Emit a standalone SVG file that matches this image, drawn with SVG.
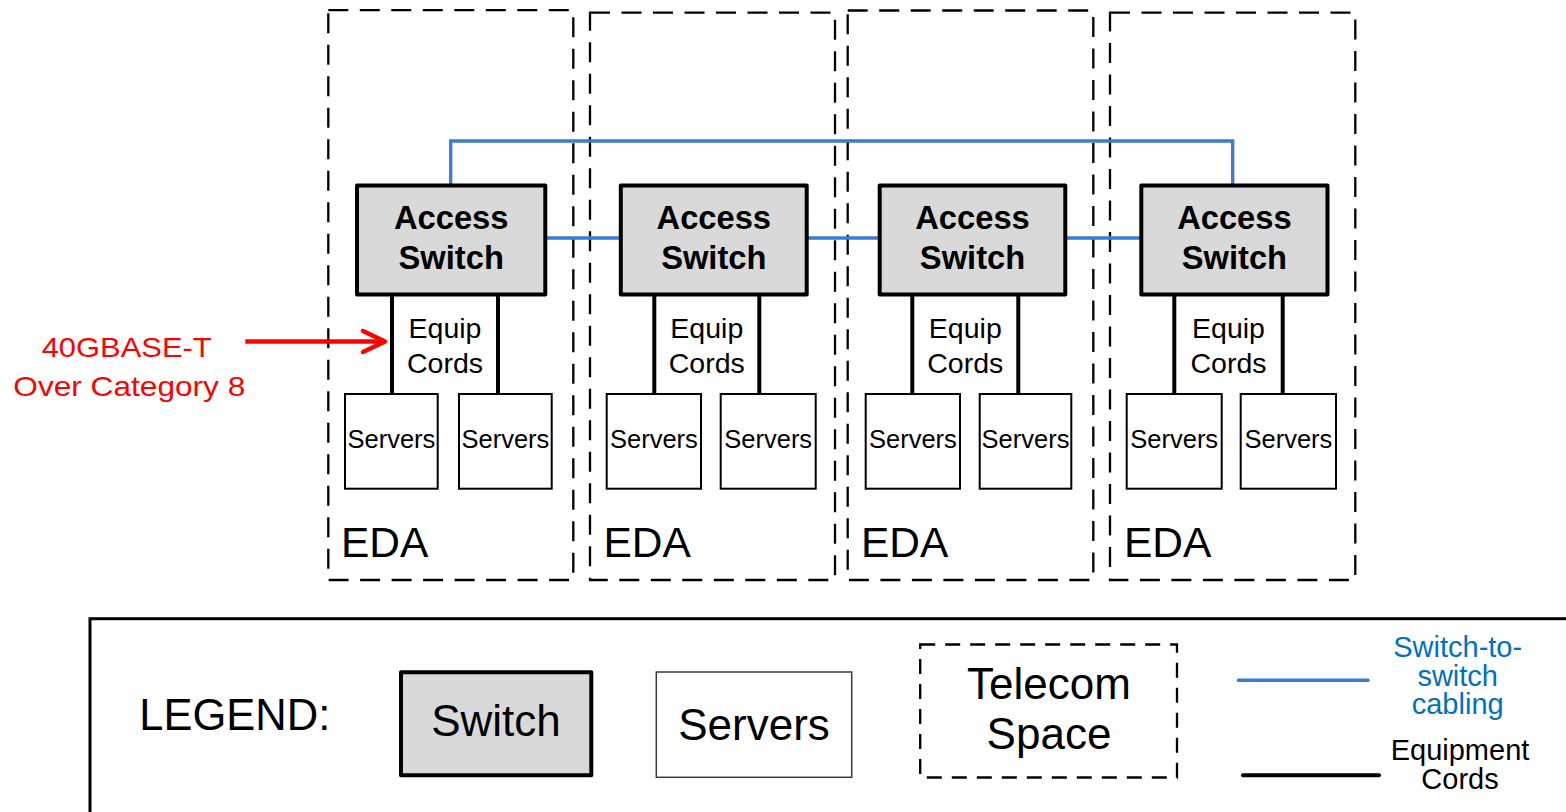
<svg xmlns="http://www.w3.org/2000/svg" width="1566" height="812" viewBox="0 0 1566 812">
  <style>
    text { font-family: "Liberation Sans", Arial, sans-serif; fill: #000; }
    .eda { fill: none; stroke: #000; stroke-width: 2.3; stroke-dasharray: 20 11.5; }
    .eda-label { font-size: 42.5px; }
    .switch { fill: #d9d9d9; stroke: #000; stroke-width: 4; stroke-linejoin: round; }
    .switch-label { font-size: 32.7px; font-weight: bold; text-anchor: middle; }
    .server { fill: #fff; stroke: #000; stroke-width: 2; }
    .server-label { font-size: 25.5px; text-anchor: middle; }
    .link { fill: none; stroke: #3a7bd5; stroke-width: 3.3; }
    .cord { fill: none; stroke: #000; stroke-width: 4; }
    .cord-label { font-size: 28.5px; text-anchor: middle; }
    .note { fill: #ff0000; font-size: 28px; }
    .legend-text { font-size: 44px; }
    .legend-small { font-size: 29px; text-anchor: middle; }
  </style>
  <defs>
    <marker id="chevron" markerUnits="userSpaceOnUse" markerWidth="40" markerHeight="40" viewBox="-30 -15 40 30" refX="0" refY="0" orient="auto" overflow="visible">
      <path d="M -22 -10.5 L 0 0 L -22 10.5" fill="none" stroke="#ff0000" stroke-width="4.5" stroke-linecap="round" stroke-linejoin="round"/>
    </marker>
  </defs>

  <rect width="1566" height="812" fill="#fff"/>

  <!-- equipment distribution areas -->
  <g id="eda-1">
    <rect class="eda" x="328.3" y="10.2" width="245" height="569.8"/>
    <text class="eda-label" x="341" y="556.5">EDA</text>
  </g>
  <g id="eda-2">
    <rect class="eda" x="590" y="12.7" width="245" height="567.3"/>
    <text class="eda-label" x="603.5" y="556.5">EDA</text>
  </g>
  <g id="eda-3">
    <rect class="eda" x="847.7" y="10.5" width="245.6" height="569.5"/>
    <text class="eda-label" x="861" y="556.5">EDA</text>
  </g>
  <g id="eda-4">
    <rect class="eda" x="1110" y="12.7" width="245.3" height="567.3"/>
    <text class="eda-label" x="1124" y="556.5">EDA</text>
  </g>

  <!-- cabling between switches and down to the servers -->
  <g id="connectors">
    <path class="link" d="M450.7 185.3 V141 H1232.7 V185.3"/>
    <line class="link" x1="545" y1="238" x2="621" y2="238"/>
    <line class="link" x1="806" y1="238" x2="880" y2="238"/>
    <line class="link" x1="1065" y1="238" x2="1142" y2="238"/>

    <line class="cord" x1="392" y1="294" x2="392" y2="394"/>
    <line class="cord" x1="498" y1="294" x2="498" y2="394"/>
    <line class="cord" x1="654.3" y1="294" x2="654.3" y2="394"/>
    <line class="cord" x1="759.3" y1="294" x2="759.3" y2="394"/>
    <line class="cord" x1="912.3" y1="294" x2="912.3" y2="394"/>
    <line class="cord" x1="1018.3" y1="294" x2="1018.3" y2="394"/>
    <line class="cord" x1="1174.3" y1="294" x2="1174.3" y2="394"/>
    <line class="cord" x1="1282.7" y1="294" x2="1282.7" y2="394"/>

    <text class="cord-label" x="445" y="337.5">Equip</text>
    <text class="cord-label" x="445" y="372.7">Cords</text>
    <text class="cord-label" x="706.8" y="337.5">Equip</text>
    <text class="cord-label" x="706.8" y="372.7">Cords</text>
    <text class="cord-label" x="965.3" y="337.5">Equip</text>
    <text class="cord-label" x="965.3" y="372.7">Cords</text>
    <text class="cord-label" x="1228.5" y="337.5">Equip</text>
    <text class="cord-label" x="1228.5" y="372.7">Cords</text>
  </g>

  <!-- access switches -->
  <g id="switch-1">
    <rect class="switch" x="357" y="185.5" width="188.3" height="109"/>
    <text class="switch-label" x="451.2" y="229.3">Access</text>
    <text class="switch-label" x="451.2" y="269">Switch</text>
  </g>
  <g id="switch-2">
    <rect class="switch" x="620.8" y="185.5" width="185.9" height="109"/>
    <text class="switch-label" x="713.8" y="229.3">Access</text>
    <text class="switch-label" x="713.8" y="269">Switch</text>
  </g>
  <g id="switch-3">
    <rect class="switch" x="879.7" y="185.5" width="185.6" height="109"/>
    <text class="switch-label" x="972.5" y="229.3">Access</text>
    <text class="switch-label" x="972.5" y="269">Switch</text>
  </g>
  <g id="switch-4">
    <rect class="switch" x="1141.3" y="185.5" width="186.2" height="109"/>
    <text class="switch-label" x="1234.4" y="229.3">Access</text>
    <text class="switch-label" x="1234.4" y="269">Switch</text>
  </g>

  <!-- server cabinets -->
  <g id="servers-1a">
    <rect class="server" x="345" y="394" width="92.7" height="94.7"/>
    <text class="server-label" x="391.4" y="447.7">Servers</text>
  </g>
  <g id="servers-1b">
    <rect class="server" x="459" y="394" width="92.7" height="94.7"/>
    <text class="server-label" x="505.4" y="447.7">Servers</text>
  </g>
  <g id="servers-2a">
    <rect class="server" x="606.7" y="394" width="94.3" height="94.7"/>
    <text class="server-label" x="653.9" y="447.7">Servers</text>
  </g>
  <g id="servers-2b">
    <rect class="server" x="720.7" y="394" width="95" height="94.7"/>
    <text class="server-label" x="768.2" y="447.7">Servers</text>
  </g>
  <g id="servers-3a">
    <rect class="server" x="865.7" y="394" width="94.3" height="94.7"/>
    <text class="server-label" x="912.9" y="447.7">Servers</text>
  </g>
  <g id="servers-3b">
    <rect class="server" x="979.7" y="394" width="91.6" height="94.7"/>
    <text class="server-label" x="1025.5" y="447.7">Servers</text>
  </g>
  <g id="servers-4a">
    <rect class="server" x="1126.7" y="394" width="95" height="94.7"/>
    <text class="server-label" x="1174.2" y="447.7">Servers</text>
  </g>
  <g id="servers-4b">
    <rect class="server" x="1240.7" y="394" width="95.3" height="94.7"/>
    <text class="server-label" x="1288.4" y="447.7">Servers</text>
  </g>

  <!-- callout for the equipment cords -->
  <g id="callout">
    <line x1="245.3" y1="341.5" x2="385" y2="341.5" stroke="#ff0000" stroke-width="4.5" marker-end="url(#chevron)"/>
    <text class="note" x="41.7" y="357" textLength="170" lengthAdjust="spacingAndGlyphs">40GBASE-T</text>
    <text class="note" x="13.3" y="395.5" textLength="232" lengthAdjust="spacingAndGlyphs">Over Category 8</text>
  </g>

  <!-- legend -->
  <g id="legend">
    <rect x="90" y="618.7" width="1520" height="300" fill="none" stroke="#000" stroke-width="3"/>
    <text class="legend-text" x="139.3" y="730.3" style="font-size:43.5px">LEGEND:</text>

    <rect class="switch" x="401" y="672.2" width="190.3" height="103.1"/>
    <text class="legend-text" x="496" y="736" text-anchor="middle">Switch</text>

    <rect x="656.3" y="672" width="195.4" height="105.3" fill="#fff" stroke="#3a3a3a" stroke-width="1.5"/>
    <text class="legend-text" x="754" y="739.7" text-anchor="middle">Servers</text>

    <rect x="920.2" y="644.5" width="256.8" height="133" fill="none" stroke="#000" stroke-width="2.3" stroke-dasharray="15 10"/>
    <text class="legend-text" x="1049" y="699" text-anchor="middle">Telecom</text>
    <text class="legend-text" x="1049" y="749" text-anchor="middle">Space</text>

    <line x1="1238.5" y1="680.3" x2="1368" y2="680.3" stroke="#3a7bd5" stroke-width="3.5" stroke-linecap="round"/>
    <text class="legend-small" x="1457.7" y="657" fill="#0070c0" style="fill:#0070c0">Switch-to-</text>
    <text class="legend-small" x="1457.7" y="686" style="fill:#0070c0">switch</text>
    <text class="legend-small" x="1457.7" y="714" style="fill:#0070c0">cabling</text>

    <line x1="1243" y1="775.3" x2="1379" y2="775.3" stroke="#000" stroke-width="4" stroke-linecap="round"/>
    <text class="legend-small" x="1460" y="760.3">Equipment</text>
    <text class="legend-small" x="1460" y="788.7">Cords</text>
  </g>
</svg>
